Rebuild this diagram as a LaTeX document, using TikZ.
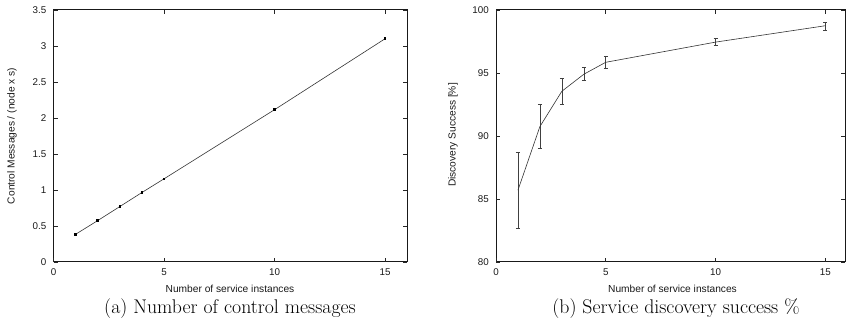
\documentclass[tikz,border=0pt]{standalone}
\usepackage{fontspec}
\newfontfamily\plotfont{Liberation Sans}
\begin{document}
\begin{tikzpicture}[x=1pt,y=1pt,
  frame/.style={draw=black!90, line width=1pt},
  tickmark/.style={draw=black!85, line width=0.6pt},
  ticklbl/.style={font=\plotfont\fontsize{9.8}{10}\selectfont, text=black!90, inner sep=0pt},
  axlbl/.style={font=\plotfont\fontsize{10.2}{11}\selectfont, text=black!90, inner sep=0pt},
  curve/.style={draw=black!80, line width=0.6pt},
  errbar/.style={draw=black!75, line width=0.6pt},
  datapt/.style={fill=black, minimum size=2.6pt, inner sep=0pt, rectangle},
  caption/.style={font=\fontsize{19.8}{22}\selectfont, inner sep=0pt}
]
\useasboundingbox (0,0) rectangle (846,332);

% ---------- (a) control messages ----------
\begin{scope}[shift={(53.5,70)}, x=22.1pt, y=72pt]
  \draw[frame] (0,0) rectangle (16,3.5);
  \foreach \t in {0,5,10,15} {
    \draw[tickmark] (\t,0) -- ++(0,4pt);
    \draw[tickmark] (\t,3.5) -- ++(0,-4pt);
    \node[ticklbl] (ax\t) at (\t,-10.5pt) {\t};
  }
  \foreach \v [count=\i] in {0,0.5,1,1.5,2,2.5,3,3.5} {
    \draw[tickmark] (0,\v) -- ++(4pt,0);
    \draw[tickmark] (16,\v) -- ++(-4pt,0);
    \node[ticklbl, anchor=east] (ay\i) at ([xshift=-7pt]0,\v) {\v};
  }
  % measured points
  \foreach \n/\x/\y in {p1/1/0.385, p2/2/0.575, p3/3/0.77, p4/4/0.965,
                        p5/5/1.155, p10/10/2.115, p15/15/3.1}
    \coordinate (a\n) at (\x,\y);
  \draw[curve] (ap1) -- (ap2) -- (ap3) -- (ap4) -- (ap5) -- (ap10) -- (ap15);
  \foreach \n in {p1,p2,p3,p4,p5,p10,p15}
    \node[datapt] (am\n) at (a\n) {};
\end{scope}
\node[axlbl] (axlabelA) at (230,43) {Number of service instances};
\node[axlbl, rotate=90] (aylabelA) at (12,196) {Control Messages / (node x s)};
\node[caption, anchor=base] (capA) at (230,19) {(a) Number of control messages};

% ---------- (b) discovery success ----------
\begin{scope}[shift={(496,70)}, x=21.95pt, y=12.6pt]
  \draw[frame] (0,0) rectangle (15.9,20);
  \foreach \t in {0,5,10,15} {
    \draw[tickmark] (\t,0) -- ++(0,4pt);
    \draw[tickmark] (\t,20) -- ++(0,-4pt);
    \node[ticklbl] (bx\t) at (\t,-10.5pt) {\t};
  }
  \foreach \v [count=\i] in {80,85,90,95,100} {
    \draw[tickmark] (0,\v-80) -- ++(4pt,0);
    \draw[tickmark] (15.9,\v-80) -- ++(-4pt,0);
    \node[ticklbl, anchor=east] (by\i) at ([xshift=-7pt]0,\v-80) {\v};
  }
  % mean with min/max error bars
  \foreach \n/\x/\m/\lo/\hi in {1/1/85.7/82.7/88.7, 2/2/90.75/89.0/92.55,
        3/3/93.55/92.5/94.55, 4/4/94.9/94.4/95.45, 5/5/95.85/95.35/96.35,
        10/10/97.45/97.2/97.75, 15/15/98.75/98.4/99.05} {
    \coordinate (bm\n) at (\x,\m-80);
    \coordinate (blo\n) at (\x,\lo-80);
    \coordinate (bhi\n) at (\x,\hi-80);
    \draw[errbar] (blo\n) -- (bhi\n);
    \draw[errbar] ([xshift=-2pt]blo\n) -- ([xshift=2pt]blo\n);
    \draw[errbar] ([xshift=-2pt]bhi\n) -- ([xshift=2pt]bhi\n);
  }
  \draw[curve] (bm1) -- (bm2) -- (bm3) -- (bm4) -- (bm5) -- (bm10) -- (bm15);
\end{scope}
\node[axlbl] (bxlabel) at (672.5,43) {Number of service instances};
\node[axlbl, rotate=90] (bylabel) at (453,197) {Discovery Success [\%]};
\node[caption, anchor=base] (capB) at (676,19) {(b) Service discovery success \%};
\end{tikzpicture}
\end{document}
